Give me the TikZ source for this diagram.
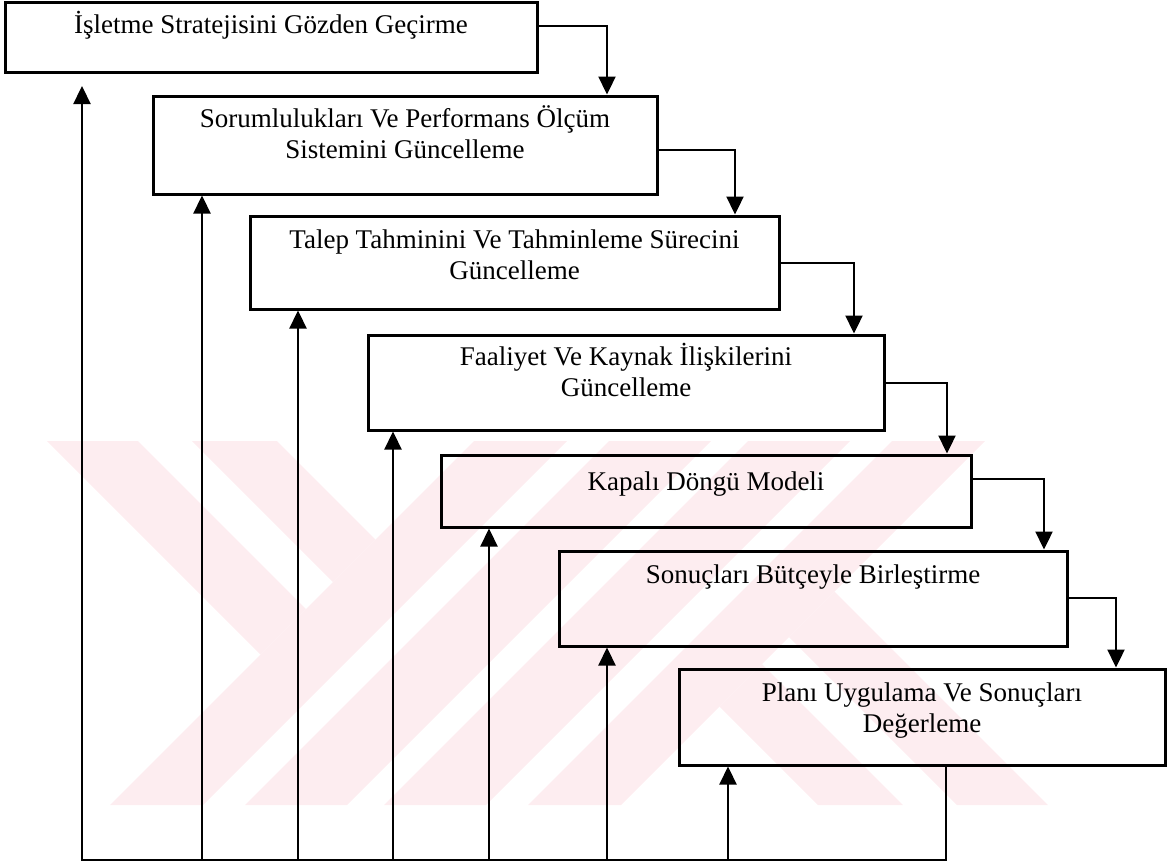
\documentclass[tikz,border=0pt]{standalone}
\usepackage{fontspec}
\setmainfont{Liberation Serif}
\usetikzlibrary{arrows.meta}
\definecolor{markpink}{RGB}{253,237,240}
\begin{document}
\begin{tikzpicture}[x=1pt,y=-1pt,
  box/.style={draw=black, line width=3pt, rectangle, inner sep=0pt},
  lbl/.style={font=\fontsize{27}{31}\selectfont, align=center, anchor=base, inner sep=0pt},
  link/.style={draw=black, line width=2.3pt},
  arr/.style={link, -{Triangle[width=17pt,length=18pt]}},
]
\useasboundingbox (0,0) rectangle (1175,863);

% faint background emblem made of diagonal bands
\begin{scope}
  \clip (0,441) rectangle (1175,805);
  % rising bands
  \fill[markpink] (474,441) -- (567,441) -- (203,805) -- (110,805) -- cycle;
  \fill[markpink] (609,441) -- (711,441) -- (347,805) -- (245,805) -- cycle;
  \fill[markpink] (748,441) -- (850,441) -- (486,805) -- (384,805) -- cycle;
  \fill[markpink] (892,441) -- (985,441) -- (621,805) -- (528,805) -- cycle;
  % upper-left falling arms
  \fill[markpink] (47,441) -- (138,441) -- (306,609) -- (260.5,654.5) -- cycle;
  \fill[markpink] (192,441) -- (277,441) -- (375.5,539.5) -- (333,582) -- cycle;
  % lower-right falling arms
  \fill[markpink] (818,805) -- (903,805) -- (762,664) -- (719.5,706.5) -- cycle;
  \fill[markpink] (957,805) -- (1048,805) -- (834.5,591.5) -- (789,637) -- cycle;
\end{scope}

% process boxes
\node[box, minimum width=532pt, minimum height=70pt] (b1) at (271,37) {};
\node[box, minimum width=504pt, minimum height=98pt] (b2) at (405,145) {};
\node[box, minimum width=529pt, minimum height=93pt] (b3) at (514.5,262.5) {};
\node[box, minimum width=516pt, minimum height=95pt] (b4) at (626,382.5) {};
\node[box, minimum width=530pt, minimum height=72pt] (b5) at (706,491) {};
\node[box, minimum width=508pt, minimum height=95pt] (b6) at (813,598.5) {};
\node[box, minimum width=486pt, minimum height=96pt] (b7) at (922,717) {};

% box captions (base anchor sits on the last line)
\node[lbl] (t1) at (271,33) {İşletme Stratejisini Gözden Geçirme};
\node[lbl] (t2) at (405,158) {Sorumlulukları Ve Performans Ölçüm\\Sistemini Güncelleme};
\node[lbl] (t3) at (514.5,279) {Talep Tahminini Ve Tahminleme Sürecini\\Güncelleme};
\node[lbl] (t4) at (626,396) {Faaliyet Ve Kaynak İlişkilerini\\Güncelleme};
\node[lbl] (t5) at (706,490) {Kapalı Döngü Modeli};
\node[lbl] (t6) at (813,583) {Sonuçları Bütçeyle Birleştirme};
\node[lbl] (t7) at (922,732) {Planı Uygulama Ve Sonuçları\\Değerleme};

% elbows of the forward chain
\coordinate (k1) at (607,26);
\coordinate (k2) at (735,150);
\coordinate (k3) at (854,263);
\coordinate (k4) at (947,383);
\coordinate (k5) at (1044,479);
\coordinate (k6) at (1116,598);

\draw[arr] (b1.east |- k1) -- (k1) -- (k1 |- b2.north);
\draw[arr] (b2.east |- k2) -- (k2) -- (k2 |- b3.north);
\draw[arr] (b3.east |- k3) -- (k3) -- (k3 |- b4.north);
\draw[arr] (b4.east |- k4) -- (k4) -- (k4 |- b5.north);
\draw[arr] (b5.east |- k5) -- (k5) -- (k5 |- b6.north);
\draw[arr] (b6.east |- k6) -- (k6) -- (k6 |- b7.north);

% feedback bus along the bottom
\coordinate (f0) at (946,860);
\coordinate (f1) at (82,860);
\coordinate (g1) at (82,86);
\coordinate (f2) at (202,860);
\coordinate (f3) at (298,860);
\coordinate (f4) at (393,860);
\coordinate (f5) at (489,860);
\coordinate (f6) at (607,860);
\coordinate (f7) at (728,860);

\draw[arr] (b7.south -| f0) -- (f0) -- (f1) -- (g1);
\draw[arr] (f2) -- (f2 |- b2.south);
\draw[arr] (f3) -- (f3 |- b3.south);
\draw[arr] (f4) -- (f4 |- b4.south);
\draw[arr] (f5) -- (f5 |- b5.south);
\draw[arr] (f6) -- (f6 |- b6.south);
\draw[arr] (f7) -- (f7 |- b7.south);
\end{tikzpicture}
\end{document}
